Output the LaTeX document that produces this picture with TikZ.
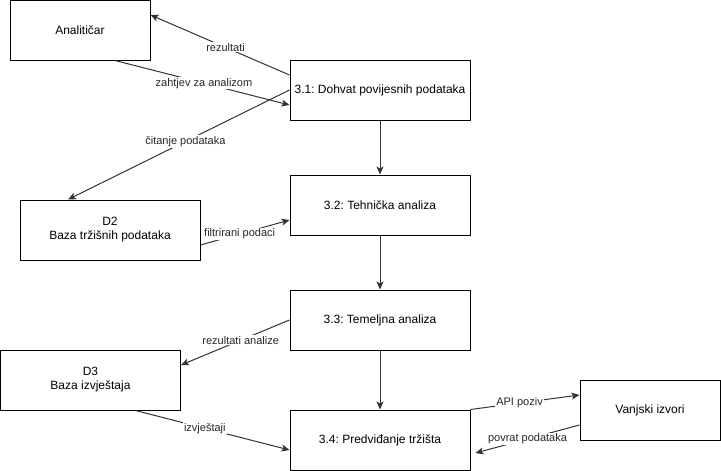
\documentclass[tikz,border=0pt]{standalone}
\usepackage{fontspec}
\setmainfont{Liberation Sans}
\usetikzlibrary{arrows.meta}
\frenchspacing
\begin{document}
\begin{tikzpicture}[x=1pt,y=-1pt,
  box/.style={draw=black,line width=1pt,fill=white,inner sep=0pt,align=center,
    font=\fontsize{12}{14}\selectfont},
  flow/.style={draw=black!80,line width=1pt,-{Stealth[length=8pt,width=7pt,inset=2pt]}},
  lbl/.style={fill=white,inner sep=1pt,font=\fontsize{11}{13}\selectfont,text=black!85}]
\useasboundingbox (0,0) rectangle (721,471);
\node[box,minimum width=140pt,minimum height=60pt] (ana) at (80,30) {Analitičar};
\node[box,minimum width=180pt,minimum height=60pt] (n31) at (380,90) {3.1: Dohvat povijesnih podataka};
\node[box,minimum width=180pt,minimum height=60pt] (n32) at (380,205) {3.2: Tehnička analiza};
\node[box,minimum width=180pt,minimum height=60pt] (d2) at (110,230) {D2\\Baza tržišnih podataka};
\node[box,minimum width=180pt,minimum height=60pt] (n33) at (380,320) {3.3: Temeljna analiza};
\node[box,minimum width=180pt,minimum height=60pt] (d3) at (90.5,380) {D3\\Baza izvještaja};
\node[box,minimum width=180pt,minimum height=60pt] (n34) at (380,440) {3.4: Predviđanje tržišta};
\node[box,minimum width=140pt,minimum height=60pt] (van) at (650,410) {Vanjski izvori};

\draw[flow] ([yshift=15pt]n31.west) -- node[lbl,pos=0.46]{rezultati} ([yshift=15pt]ana.east);
\draw[flow] ([xshift=35pt]ana.south) -- node[lbl,pos=0.51]{zahtjev za analizom} ([yshift=-15pt]n31.west);
\draw[flow] (n31.west) -- node[lbl,pos=0.47]{čitanje podataka} ([xshift=-42pt]d2.north);
\draw[flow] (n31.south) -- (n32.north);
\draw[flow] ([yshift=-15pt]d2.east) -- node[lbl,pos=0.44]{filtrirani podaci} ([yshift=-15pt]n32.west);
\draw[flow] (n32.south) -- (n33.north);
\draw[flow] (n33.west) -- node[lbl,pos=0.45]{rezultati analize} ([yshift=15pt]d3.east);
\draw[flow] (n33.south) -- (n34.north);
\draw[flow] ([xshift=45pt]d3.south) -- node[lbl,pos=0.45]{izvještaji} ([yshift=-10pt]n34.west);
\draw[flow] (n34.north east) -- node[lbl,pos=0.45]{API poziv} ([yshift=15pt]van.west);
\draw[flow] ([yshift=-15pt]van.west) -- node[lbl,pos=0.5]{povrat podataka} ([xshift=5pt,yshift=-13pt]n34.east);
\end{tikzpicture}
\end{document}
